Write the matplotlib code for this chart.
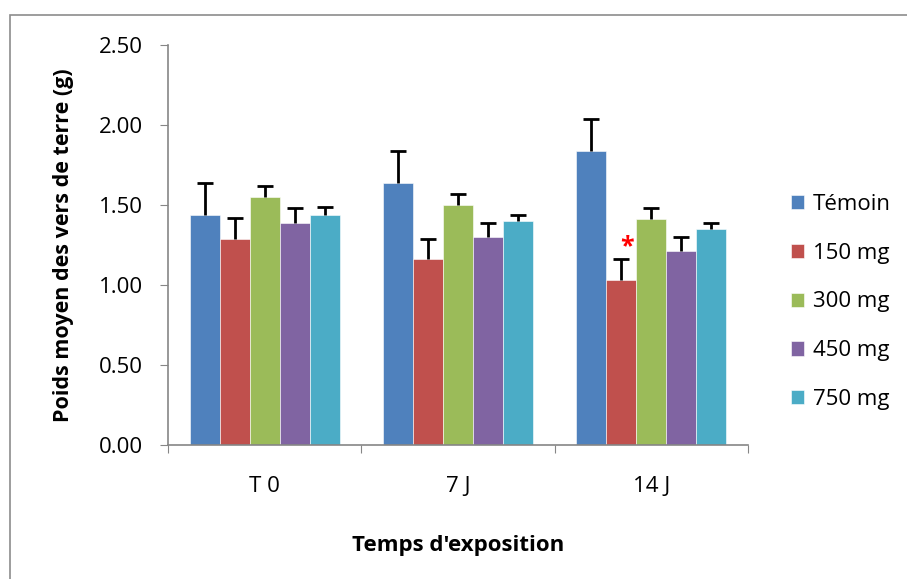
import matplotlib
matplotlib.use("Agg")
import matplotlib.pyplot as plt
import numpy as np
from matplotlib.patches import Rectangle

categories = ["T 0", "7 J", "14 J"]
series = ["Témoin", "150 mg", "300 mg", "450 mg", "750 mg"]
temoin = [1.44, 1.64, 1.84]
mg150 = [1.29, 1.16, 1.03]
mg300 = [1.55, 1.50, 1.41]
mg450 = [1.39, 1.30, 1.21]
mg750 = [1.44, 1.40, 1.35]
err_temoin = [0.20, 0.20, 0.20]
err_150 = [0.13, 0.13, 0.13]
err_300 = [0.07, 0.07, 0.07]
err_450 = [0.09, 0.09, 0.09]
err_750 = [0.05, 0.04, 0.04]
yticks = [0.0, 0.5, 1.0, 1.5, 2.0, 2.5]

values = [temoin, mg150, mg300, mg450, mg750]
errors = [err_temoin, err_150, err_300, err_450, err_750]
colors = ["#4F81BD", "#C0504D", "#9BBB59", "#8064A2", "#4BACC6"]

plt.rcParams['font.family'] = ['Open Sans', 'DejaVu Sans']

fig = plt.figure(figsize=(9.07, 5.79), dpi=100)
fig.patches.append(Rectangle((10/907, -0.01), 1.2, 1 - 15/579 + 0.01,
                             transform=fig.transFigure, fill=False,
                             edgecolor="#8c8c8c", linewidth=1.2, zorder=0))
ax = fig.add_axes([168/907, 1 - 445/579, (748-168)/907, 400/579])

x = np.arange(len(categories))
w = 0.155
for i, (vals, errs, c, name) in enumerate(zip(values, errors, colors, series)):
    pos = x + (i - 2) * w
    ax.bar(pos, vals, width=w, color=c, edgecolor="white", linewidth=0.4, label=name, zorder=2)
    eb = ax.errorbar(pos, vals, yerr=[np.zeros(len(errs)), errs], fmt="none",
                     ecolor="black", elinewidth=2, capsize=6, capthick=2, zorder=3)
    eb[1][0].set_visible(False)

# significance marker
ax.text(x[2] + (1 - 2) * w + 0.03, mg150[2] + err_150[2] + 0.08, "*", color="red",
        fontsize=18, fontweight="bold", ha="center", va="center", zorder=4)

ax.set_xlim(-0.5, 2.5)
ax.set_ylim(0, 2.5)
ax.set_yticks(yticks)
ax.set_yticklabels([f"{v:.2f}" for v in yticks], fontsize=16)
ax.set_xticks([-0.5, 0.5, 1.5, 2.5])
ax.set_xticklabels([])
ax.set_xticks(x, minor=True)
ax.set_xticklabels(categories, minor=True, fontsize=16)
ax.tick_params(axis="x", which="minor", length=0, pad=22)
ax.tick_params(axis="x", which="major", length=6, color="#868686", direction="out")
ax.tick_params(axis="y", length=6, color="#868686", direction="out", pad=12)
for s in ["top", "right"]:
    ax.spines[s].set_visible(False)
for s in ["left", "bottom"]:
    ax.spines[s].set_color("#868686")
    ax.spines[s].set_linewidth(1.2)

ax.set_ylabel("Poids moyen des vers de terre (g)", fontsize=15.5, fontweight="bold", labelpad=18)
ax.set_xlabel("Temps d'exposition", fontsize=16, fontweight="bold", labelpad=28)

leg = ax.legend(loc="center left", frameon=False, fontsize=16, handlelength=0.6,
                handleheight=0.6, handletextpad=0.4, labelspacing=1.25,
                borderpad=0, borderaxespad=0)
leg.set_bbox_to_anchor((1.074, 0.3575), transform=ax.transAxes)

fig.savefig("out.png", dpi=100)
